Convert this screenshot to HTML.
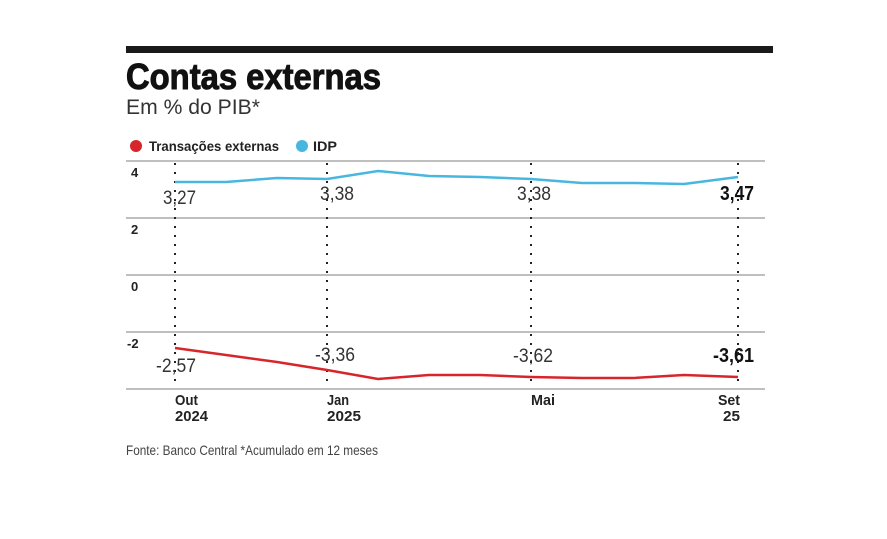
<!DOCTYPE html>
<html><head><meta charset="utf-8"><style>
body{margin:0;background:#fff;width:887px;height:534px;overflow:hidden}
svg text{font-family:"Liberation Sans Narrow","Liberation Sans",sans-serif}
</style></head><body>
<svg width="887" height="534" xmlns="http://www.w3.org/2000/svg">
<rect x="126" y="46" width="647" height="7" fill="#1a1a1a"/>
<text x="126" y="89" font-size="36" font-weight="bold" fill="#111" stroke="#111" stroke-width="1" textLength="255" lengthAdjust="spacingAndGlyphs">Contas externas</text>
<text x="126" y="114" font-size="21" fill="#333" textLength="134" lengthAdjust="spacingAndGlyphs">Em % do PIB*</text>
<circle cx="136" cy="146" r="6" fill="#d7262b"/>
<text x="149" y="151" font-size="14" font-weight="bold" fill="#222" textLength="130" lengthAdjust="spacingAndGlyphs">Transações externas</text>
<circle cx="302" cy="146" r="6" fill="#48b7df"/>
<text x="313" y="151" font-size="14" font-weight="bold" fill="#222" textLength="24" lengthAdjust="spacingAndGlyphs">IDP</text>
<g stroke="#999" stroke-width="1.3">
<line x1="126" y1="161" x2="765" y2="161"/>
<line x1="126" y1="218" x2="765" y2="218"/>
<line x1="126" y1="275" x2="765" y2="275"/>
<line x1="126" y1="332" x2="765" y2="332"/>
<line x1="126" y1="389" x2="765" y2="389"/>
</g>
<g stroke="#222" stroke-width="2" stroke-dasharray="2,7">
<line x1="175" y1="163" x2="175" y2="388"/>
<line x1="327" y1="163" x2="327" y2="388"/>
<line x1="531" y1="163" x2="531" y2="388"/>
<line x1="738" y1="163" x2="738" y2="388"/>
</g>
<g font-size="13" font-weight="bold" fill="#222">
<text x="131" y="177">4</text><text x="131" y="234">2</text><text x="131" y="291">0</text><text x="127" y="348">-2</text>
</g>
<polyline fill="none" stroke="#48b7df" stroke-width="2.5" points="175,182 226,182 277,178 327,179 378,171 429,176 480,177 531,179 582,183 633,183 684,184 738,177"/>
<polyline fill="none" stroke="#d7262b" stroke-width="2.5" points="175,348 226,355 277,362 327,370 378,379 429,375 480,375 531,377 582,378 633,378 684,375 738,377"/>
<g font-size="19" fill="#333">
<text x="163" y="204" textLength="33" lengthAdjust="spacingAndGlyphs">3,27</text>
<text x="320" y="200" textLength="34" lengthAdjust="spacingAndGlyphs">3,38</text>
<text x="517" y="200" textLength="34" lengthAdjust="spacingAndGlyphs">3,38</text>
<text x="156" y="372" textLength="40" lengthAdjust="spacingAndGlyphs">-2,57</text>
<text x="315" y="361" textLength="40" lengthAdjust="spacingAndGlyphs">-3,36</text>
<text x="513" y="362" textLength="40" lengthAdjust="spacingAndGlyphs">-3,62</text>
</g>
<text x="720" y="200" font-size="20" font-weight="bold" fill="#111" textLength="34" lengthAdjust="spacingAndGlyphs">3,47</text>
<text x="713" y="362" font-size="20" font-weight="bold" fill="#111" textLength="41" lengthAdjust="spacingAndGlyphs">-3,61</text>
<g font-size="15" font-weight="bold" fill="#222">
<text x="175" y="405" textLength="23" lengthAdjust="spacingAndGlyphs">Out</text><text x="175" y="421" textLength="33" lengthAdjust="spacingAndGlyphs">2024</text>
<text x="327" y="405" textLength="22" lengthAdjust="spacingAndGlyphs">Jan</text><text x="327" y="421" textLength="34" lengthAdjust="spacingAndGlyphs">2025</text>
<text x="531" y="405" textLength="24" lengthAdjust="spacingAndGlyphs">Mai</text>
<text x="718" y="405" textLength="22" lengthAdjust="spacingAndGlyphs">Set</text><text x="723" y="421" textLength="17" lengthAdjust="spacingAndGlyphs">25</text>
</g>
<text x="126" y="455" font-size="14" fill="#444" textLength="252" lengthAdjust="spacingAndGlyphs">Fonte: Banco Central *Acumulado em 12 meses</text>
</svg>
</body></html>
